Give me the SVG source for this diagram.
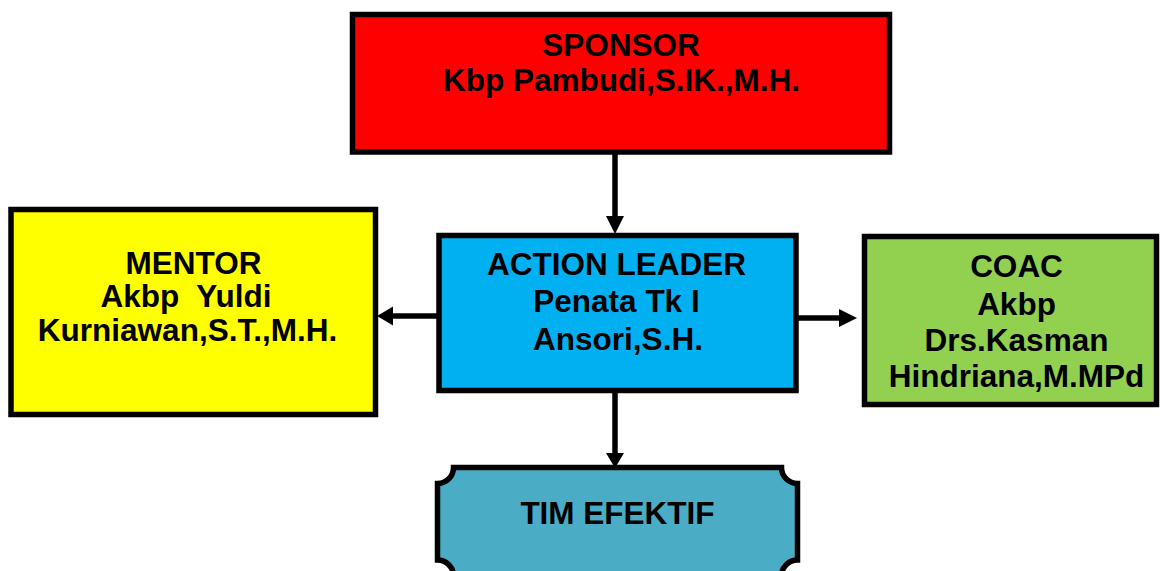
<svg xmlns="http://www.w3.org/2000/svg" width="1160" height="571" viewBox="0 0 1160 571">
<style>
.box{stroke:#000;stroke-width:5.5}
.t{font-family:"Liberation Sans",Arial,sans-serif;font-weight:bold;font-size:31.5px;fill:#000;text-anchor:middle}
.ln{stroke:#000;stroke-width:5.5;fill:none}
.hd{fill:#000}
</style>
<rect width="1160" height="571" fill="#fff"/>
<g id="connectors">
<line class="ln" x1="615" y1="154" x2="615" y2="218"/>
<polygon class="hd" points="606,216 624,216 615,234"/>
<line class="ln" x1="615" y1="392" x2="615" y2="455"/>
<polygon class="hd" points="606,453 624,453 615,468"/>
<line class="ln" x1="437" y1="316" x2="391" y2="316"/>
<polygon class="hd" points="393,306.5 393,325.5 377,316"/>
<line class="ln" x1="798" y1="318" x2="841" y2="318"/>
<polygon class="hd" points="839,309 839,327 857,318"/>
</g>
<g id="sponsor">
<rect class="box" x="352.5" y="14.5" width="537" height="137.5" fill="#FF0000"/>
<text class="t" x="621" y="56">SPONSOR</text>
<text class="t" x="621.5" y="90.5">Kbp Pambudi,S.IK.,M.H.</text>
</g>
<g id="mentor">
<rect class="box" x="11" y="209.5" width="364.5" height="205" fill="#FFFF00"/>
<text class="t" x="193.5" y="273.5">MENTOR</text>
<text class="t" x="186" y="307" xml:space="preserve">Akbp  Yuldi</text>
<text class="t" x="187.5" y="340.5">Kurniawan,S.T.,M.H.</text>
</g>
<g id="action-leader">
<rect class="box" x="439" y="235.5" width="357" height="155" fill="#00B0F0"/>
<text class="t" x="616.5" y="274.5">ACTION LEADER</text>
<text class="t" x="616.5" y="312">Penata Tk I</text>
<text class="t" x="618" y="350">Ansori,S.H.</text>
</g>
<g id="coach">
<rect class="box" x="864.5" y="236.5" width="292" height="168" fill="#92D050"/>
<text class="t" x="1016.5" y="277">COAC</text>
<text class="t" x="1016.5" y="315">Akbp</text>
<text class="t" x="1016.5" y="351">Drs.Kasman</text>
<text class="t" x="1016.5" y="387">Hindriana,M.MPd</text>
</g>
<g id="tim-efektif">
<path class="box" fill="#4BACC6" d="M453.5,467.5 H781.5 A16,16 0 0 0 797.5,483.5 V560 A16,16 0 0 0 781.5,576 H453.5 A16,16 0 0 0 437.5,560 V483.5 A16,16 0 0 0 453.5,467.5 Z"/>
<text class="t" x="617.5" y="523.5">TIM EFEKTIF</text>
</g>
</svg>
